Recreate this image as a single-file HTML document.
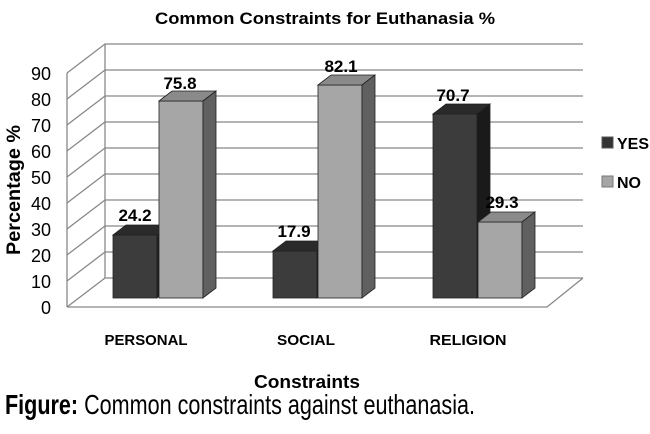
<!DOCTYPE html><html><head><style>body{margin:0;background:#fff}</style></head><body>
<svg width="650" height="429" xmlns="http://www.w3.org/2000/svg" font-family="Liberation Sans, sans-serif">
<text x="325" y="24" text-anchor="middle" font-size="17" font-weight="bold" textLength="340" lengthAdjust="spacingAndGlyphs">Common Constraints for Euthanasia %</text>
<g stroke="#888" stroke-width="1.3" fill="none">
<line x1="105" y1="44" x2="105" y2="278"/>
<line x1="67" y1="73" x2="67" y2="307"/>
<polyline points="67,307 547,307 583,278"/>
<path d="M67,307 L105,278 L583,278"/>
<path d="M67,281 L105,252 L583,252"/>
<path d="M67,255 L105,226 L583,226"/>
<path d="M67,229 L105,200 L583,200"/>
<path d="M67,203 L105,174 L583,174"/>
<path d="M67,177 L105,148 L583,148"/>
<path d="M67,151 L105,122 L583,122"/>
<path d="M67,125 L105,96 L583,96"/>
<path d="M67,99 L105,70 L583,70"/>
<path d="M67,73 L105,44 L583,44"/>
</g>
<g font-size="18" text-anchor="end">
<text x="51" y="314">0</text><text x="51" y="288">10</text><text x="51" y="262">20</text><text x="51" y="236">30</text><text x="51" y="210">40</text><text x="51" y="184">50</text><text x="51" y="158">60</text><text x="51" y="132">70</text><text x="51" y="106">80</text><text x="51" y="80">90</text>
</g>
<text transform="translate(20,190) rotate(-90)" text-anchor="middle" font-size="19" font-weight="bold" textLength="130" lengthAdjust="spacingAndGlyphs">Percentage %</text>
<g stroke="#222" stroke-width="0.8">
<g fill="#3c3c3c"><rect x="113" y="235" width="44" height="63"/><polygon points="113,235 126,225 170,225 157,235" fill="#2a2a2a"/><polygon points="157,235 170,225 170,288 157,298" fill="#1e1e1e"/></g>
<g fill="#a6a6a6"><rect x="159" y="101" width="44" height="197"/><polygon points="159,101 172,91 216,91 203,101" fill="#8a8a8a"/><polygon points="203,101 216,91 216,288 203,298" fill="#606060"/></g>
<g fill="#3c3c3c"><rect x="273" y="251" width="44" height="47"/><polygon points="273,251 286,241 330,241 317,251" fill="#2a2a2a"/><polygon points="317,251 330,241 330,288 317,298" fill="#1e1e1e"/></g>
<g fill="#a6a6a6"><rect x="318" y="85" width="44" height="213"/><polygon points="318,85 331,75 375,75 362,85" fill="#8a8a8a"/><polygon points="362,85 375,75 375,288 362,298" fill="#606060"/></g>
<g fill="#3c3c3c"><rect x="433" y="114" width="44" height="184"/><polygon points="433,114 446,104 490,104 477,114" fill="#2a2a2a"/><polygon points="477,114 490,104 490,288 477,298" fill="#1a1a1a"/></g>
<g fill="#a6a6a6"><rect x="478" y="222" width="44" height="76"/><polygon points="478,222 491,212 535,212 522,222" fill="#8a8a8a"/><polygon points="522,222 535,212 535,288 522,298" fill="#606060"/></g>
</g>
<g font-size="17" font-weight="bold" text-anchor="middle">
<text x="135" y="221">24.2</text><text x="180" y="89">75.8</text>
<text x="294" y="237">17.9</text><text x="341" y="72">82.1</text>
<text x="453" y="101">70.7</text><text x="502" y="208">29.3</text>
</g>
<g font-size="15" font-weight="bold" text-anchor="middle">
<text x="146" y="345" textLength="83" lengthAdjust="spacingAndGlyphs">PERSONAL</text>
<text x="306" y="345" textLength="58" lengthAdjust="spacingAndGlyphs">SOCIAL</text>
<text x="468" y="345" textLength="77" lengthAdjust="spacingAndGlyphs">RELIGION</text>
<text x="307" y="388" font-size="18" textLength="106" lengthAdjust="spacingAndGlyphs">Constraints</text>
</g>
<rect x="602" y="137" width="11" height="11" fill="#333" stroke="#555"/>
<text x="617" y="149" font-size="16" font-weight="bold">YES</text>
<rect x="602" y="176" width="11" height="11" fill="#a6a6a6" stroke="#777"/>
<text x="617" y="188" font-size="16" font-weight="bold">NO</text>
<text x="5" y="414" font-size="28" textLength="470" lengthAdjust="spacingAndGlyphs"><tspan font-weight="bold">Figure:</tspan> Common constraints against euthanasia.</text>
</svg></body></html>
